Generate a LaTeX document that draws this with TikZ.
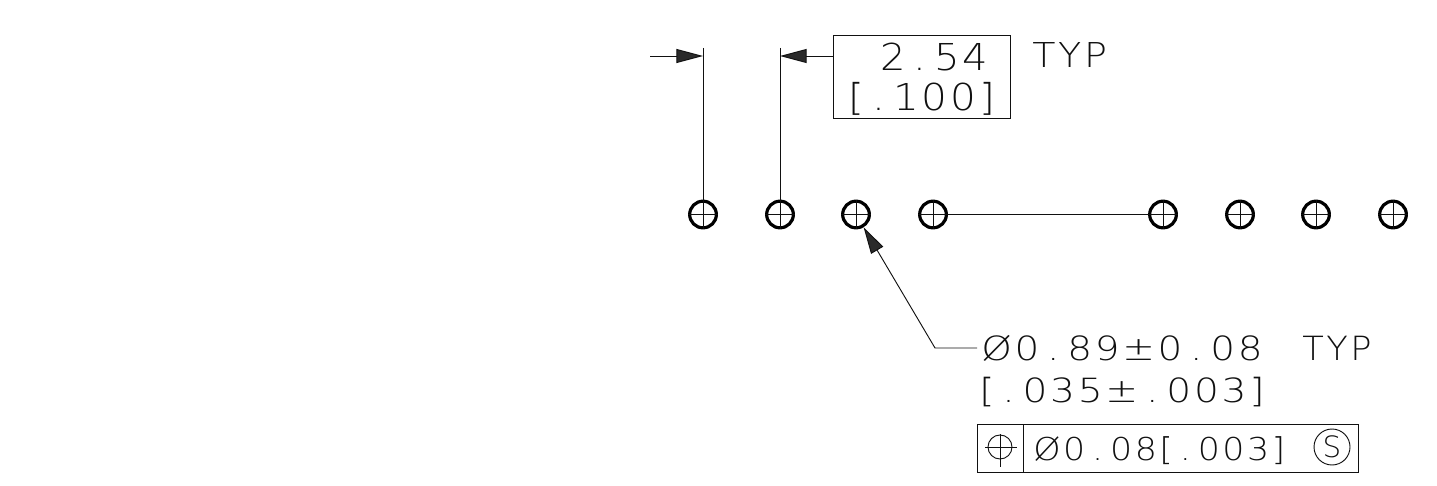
\documentclass[tikz,border=0pt]{standalone}
\usepackage{graphicx}
\usepackage{fontspec}
\usetikzlibrary{arrows.meta}
\newfontfamily\cadfont[LetterSpace=7]{DejaVu Sans ExtraLight}
\definecolor{ink}{HTML}{111111}
\definecolor{headfill}{HTML}{2A2A2A}
\newcommand{\cadsize}[1]{\fontsize{#1}{#1}\selectfont}
\newcommand{\pd}{\kern.2em.\kern.2em}
\tikzset{
  x=0.75pt,y=-0.75pt,
  thinline/.style={draw=ink,line width=0.7pt},
  pin/.style={circle,draw=black,line width=2.4pt,minimum size=20pt,inner sep=0pt},
  hatchhead/.style={-{Triangle[length=20pt,width=10.5pt,fill=headfill]}},
  cadlabel/.style={anchor=base west,inner sep=0pt,text=ink,font=\cadfont},
  framebox/.style={rectangle,draw=ink,line width=0.8pt,inner sep=0pt,anchor=north west},
}
\begin{document}
\begin{tikzpicture}
\useasboundingbox (0,0) rectangle (1437,485);
% pins
\foreach \n/\px in {1/703,2/780,3/856,4/933,5/1163,6/1240,7/1316,8/1393}{
  \node[pin] (p\n) at (\px,214.5) {};
  \draw[thinline] (p\n.north) -- (p\n.south);
  \draw[thinline] (p\n.west) -- (p\n.east);
}
% extension lines
\coordinate (e1) at (703,48);
\coordinate (e2) at (780,48);
\draw[thinline] (e1) -- (p1.north);
\draw[thinline] (e2) -- (p2.north);
\draw[thinline] (p4) -- (p5);
% dimension box
\node[framebox,minimum width=132.75pt,minimum height=62.25pt] (dimbox) at (833,35) {};
\coordinate (tail1) at (650,56);
\coordinate (tip1) at (703,56);
\coordinate (tip2) at (780,56);
\coordinate (tail2) at (833,56);
\draw[thinline,hatchhead] (tail1) -- (tip1);
\draw[thinline,hatchhead] (tail2) -- (tip2);
\node[cadlabel] (dimA) at (880,70) {\resizebox{81pt}{\height}{\cadsize{27.8pt}2\pd 54}};
\node[cadlabel] (dimB) at (848,110) {\resizebox{110pt}{\height}{\cadsize{27.8pt}[\pd 100]}};
\node[cadlabel] (typA) at (1032,67) {\resizebox{56pt}{\height}{\cadsize{25.7pt}TYP}};
% leader
\node[cadlabel] (holeA) at (981,360) {\resizebox{211pt}{\height}{\cadsize{25pt}Ø0\pd 89±0\pd 08}};
\node[cadlabel] (typB) at (1302,360) {\resizebox{52pt}{\height}{\cadsize{25pt}TYP}};
\node[cadlabel] (holeB) at (979,402) {\resizebox{214pt}{\height}{\cadsize{25pt}[\pd 035±\pd 003]}};
\coordinate (knee) at (935,348);
\draw[thinline,hatchhead] (holeA.base west |- knee) ++(-4,0) coordinate (lstart) -- (knee) -- (p3);
% feature control frame
\node[framebox,minimum width=285.75pt,minimum height=36pt] (fcf) at (977,424) {};
\coordinate (divT) at (1023,424);
\coordinate (divB) at (1023,472);
\draw[thinline] (divT) -- (divB);
\node[circle,draw=ink,line width=0.7pt,minimum size=18pt,inner sep=0pt] (sym) at (1000,447) {};
\coordinate (symL) at (985,447);
\coordinate (symR) at (1017,447);
\coordinate (symT) at (1000,434);
\coordinate (symB) at (1000,467);
\draw[thinline] (symL) -- (symR);
\draw[thinline] (symT) -- (symB);
\node[cadlabel] (tol) at (1033,460) {\resizebox{189pt}{\height}{\cadsize{23.6pt}Ø0\pd 08[\pd 003]}};
\node[circle,draw=ink,line width=0.7pt,minimum size=27pt,inner sep=0pt,text=ink,font=\cadfont\cadsize{22pt}] (smod) at (1332,447) {S};
\end{tikzpicture}
\end{document}
